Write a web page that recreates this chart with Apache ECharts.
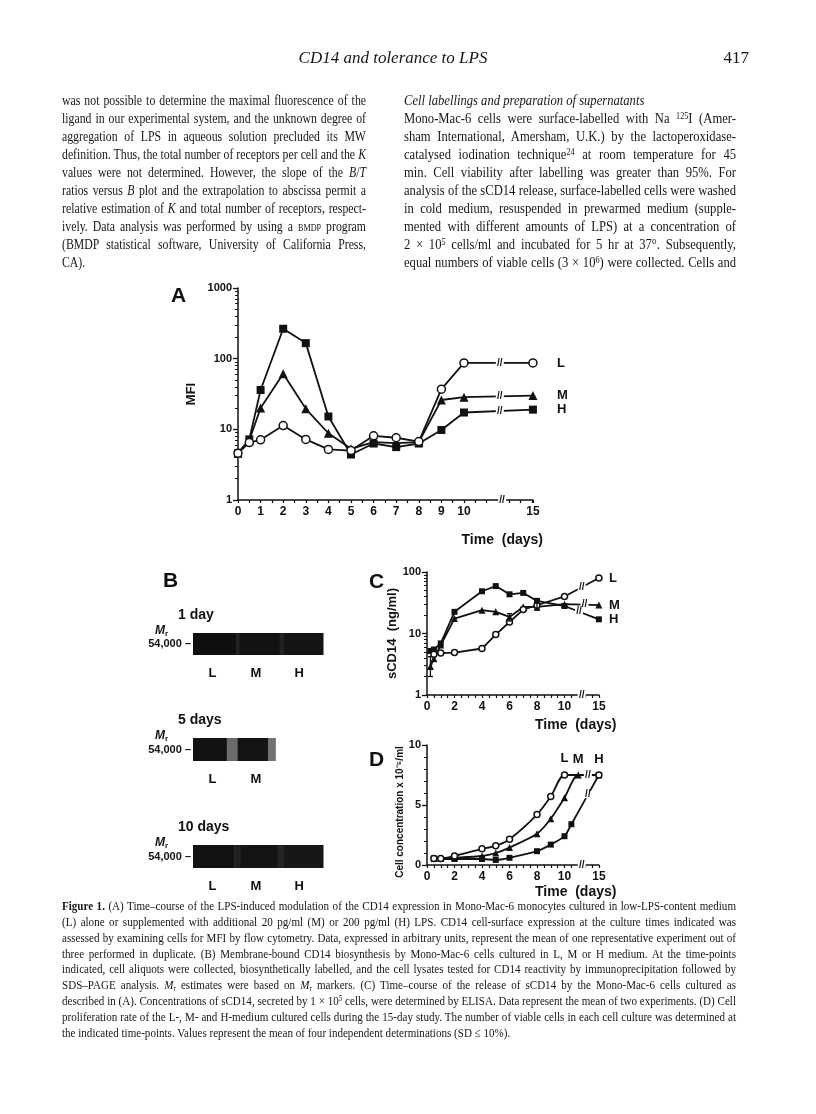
<!DOCTYPE html>
<html>
<head>
<meta charset="utf-8">
<script src="https://cdn.jsdelivr.net/npm/echarts@6/dist/echarts.min.js"></script>
<style>
  html, body { margin: 0; padding: 0; background: #fff; }
  #page { position: relative; width: 816px; height: 1114px; overflow: hidden; }
  #chart { position: absolute; left: 0; top: 0; width: 816px; height: 1114px; }
  .t { position: absolute; font-family: 'Liberation Serif', 'Times New Roman', serif; color: #161616; white-space: nowrap; }
  .t sup { font-size: 0.65em; vertical-align: 0.45em; line-height: 0; }
  .t sub { font-size: 0.65em; vertical-align: -0.2em; line-height: 0; }
  .sc { font-variant: small-caps; }
</style>
</head>
<body>
<div id="page">
  <div id="chart"></div>
</div>
<script>
// page text
const headerTitle = 'CD14 and tolerance to LPS'
const pageNo = '417'
const leftLines = [
  'was not possible to determine the maximal fluorescence of the',
  'ligand in our experimental system, and the unknown degree of',
  'aggregation of LPS in aqueous solution precluded its MW',
  'definition. Thus, the total number of receptors per cell and the <i>K</i>',
  'values were not determined. However, the slope of the <i>B</i>/<i>T</i>',
  'ratios versus <i>B</i> plot and the extrapolation to abscissa permit a',
  'relative estimation of <i>K</i> and total number of receptors, respect-',
  'ively. Data analysis was performed by using a <span class="sc">bmdp</span> program',
  '(BMDP statistical software, University of California Press,',
  'CA).'
]
const rightLines = [
  '<i>Cell labellings and preparation of supernatants</i>',
  'Mono-Mac-6 cells were surface-labelled with Na <sup>125</sup>I (Amer-',
  'sham International, Amersham, U.K.) by the lactoperoxidase-',
  'catalysed iodination technique<sup>24</sup> at room temperature for 45',
  'min. Cell viability after labelling was greater than 95%. For',
  'analysis of the sCD14 release, surface-labelled cells were washed',
  'in cold medium, resuspended in prewarmed medium (supple-',
  'mented with different amounts of LPS) at a concentration of',
  '2 × 10<sup>5</sup> cells/ml and incubated for 5 hr at 37°. Subsequently,',
  'equal numbers of viable cells (3 × 10<sup>6</sup>) were collected. Cells and'
]
const captionLines = [
  '<b>Figure 1.</b> (A) Time–course of the LPS-induced modulation of the CD14 expression in Mono-Mac-6 monocytes cultured in low-LPS-content medium',
  '(L) alone or supplemented with additional 20 pg/ml (M) or 200 pg/ml (H) LPS. CD14 cell-surface expression at the culture times indicated was',
  'assessed by examining cells for MFI by flow cytometry. Data, expressed in arbitrary units, represent the mean of one representative experiment out of',
  'three performed in duplicate. (B) Membrane-bound CD14 biosynthesis by Mono-Mac-6 cells cultured in L, M or H medium. At the time-points',
  'indicated, cell aliquots were collected, biosynthetically labelled, and the cell lysates tested for CD14 reactivity by immunoprecipitation followed by',
  'SDS–PAGE analysis. <i>M</i><sub>r</sub> estimates were based on <i>M</i><sub>r</sub> markers. (C) Time–course of the release of sCD14 by the Mono-Mac-6 cells cultured as',
  'described in (A). Concentrations of sCD14, secreted by 1 × 10<sup>5</sup> cells, were determined by ELISA. Data represent the mean of two experiments. (D) Cell',
  'proliferation rate of the L-, M- and H-medium cultured cells during the 15-day study. The number of viable cells in each cell culture was determined at',
  'the indicated time-points. Values represent the mean of four independent determinations (SD ≤ 10%).'
]

// A: MFI
const daysA = [0, 0.5, 1, 2, 3, 4, 5, 6, 7, 8, 9, 10, 15]
const mfiL = [4.6, 6.5, 7.1, 11.3, 7.2, 5.2, 5.0, 8.1, 7.6, 6.7, 37, 87, 87]
const mfiM = [4.6, 7.0, 20, 61, 19.5, 8.8, 5.3, 6.6, 6.4, 6.6, 26, 28.5, 30]
const mfiH = [4.6, 7.2, 36, 265, 166, 15.2, 4.4, 6.3, 5.6, 6.3, 9.8, 17.3, 19]
const xTicksA = [0, 1, 2, 3, 4, 5, 6, 7, 8, 9, 10, 15]

// C: sCD14 (ng/ml)
const daysCL = [0.5, 1, 2, 4, 5, 6, 7, 8, 10, 15]
const daysCMH = [0.25, 0.5, 1, 2, 4, 5, 6, 7, 8, 10, 15]
const scdL = [4.6, 4.8, 4.9, 5.7, 9.6, 15.4, 24.5, 28.8, 40, 80]
const scdM = [2.9, 3.9, 6.5, 17.5, 23.9, 22.5, 18.6, 27, 27, 30, 29]
const scdH = [5.2, 5.5, 6.9, 22.5, 48.6, 59, 43.4, 45.7, 33.9, 28, 17]
const errDays = [0.25, 6, 8]
const errLow = [2.0, 16, 24]
const errHigh = [4.2, 21, 31]
const xTicksCD = [0, 2, 4, 6, 8, 10, 15]

// D: cells x 10^-5/ml
const daysDL = [0.5, 1, 2, 4, 5, 6, 8, 9, 10, 15]
const daysDM = [0.5, 1, 2, 4, 5, 6, 8, 9, 10, 12, 15]
const daysDH = [0.5, 1, 2, 4, 5, 6, 8, 9, 10, 11, 15]
const cellL = [0.55, 0.55, 0.75, 1.35, 1.6, 2.15, 4.2, 5.7, 7.5, 7.5]
const cellM = [0.55, 0.55, 0.6, 0.75, 1.0, 1.45, 2.6, 3.85, 5.6, 7.5, 7.5]
const cellH = [0.55, 0.5, 0.5, 0.5, 0.42, 0.6, 1.15, 1.7, 2.4, 3.4, 7.5]

// B: gel strips [from lane, to lane, grey level]
const blotTitles = ['1 day', '5 days', '10 days']
const blotLanes = [['L', 'M', 'H'], ['L', 'M'], ['L', 'M', 'H']]
const blot1 = [[0, 1, 0.06], [1, 1.08, 0.12], [1.08, 2, 0.07], [2, 2.1, 0.13], [2.1, 3, 0.08]]
const blot2 = [[0, 0.78, 0.07], [0.78, 1.03, 0.42], [1.03, 1.73, 0.08], [1.73, 1.9, 0.45]]
const blot3 = [[0, 0.95, 0.07], [0.95, 1.1, 0.13], [1.1, 1.95, 0.08], [1.95, 2.1, 0.14], [2.1, 3, 0.09]]
const mrLabel = '54,000 –'

const page = document.getElementById('page')

// one shared horizontal squeeze per column so the face looks even
function placeLines(lines, x, y0, step, w, size, plain) {
  const spans = lines.map((html, i) => {
    const d = document.createElement('div')
    d.className = 't'
    d.style.left = x + 'px'
    d.style.top = (y0 + i * step - step / 2) + 'px'
    d.style.fontSize = size + 'px'
    d.style.lineHeight = step + 'px'
    const s = document.createElement('span')
    s.innerHTML = html
    d.appendChild(s)
    page.appendChild(d)
    return s
  })
  const nats = spans.map(s => s.getBoundingClientRect().width)
  let sc = 1
  nats.forEach((n, i) => { if (plain.indexOf(i) < 0) sc = Math.min(sc, w / (n + 1)) })
  spans.forEach((s, i) => {
    const just = plain.indexOf(i) < 0
    s.style.display = 'block'
    s.style.width = (just ? w / sc : nats[i] + 2) + 'px'
    s.style.whiteSpace = 'normal'
    s.style.textAlign = 'justify'
    s.style.textAlignLast = just ? 'justify' : 'left'
    s.style.transformOrigin = '0 0'
    s.style.transform = 'scaleX(' + sc + ')'
  })
}

function single(html, x, y, size, style, anchor) {
  const d = document.createElement('div')
  d.className = 't'
  d.innerHTML = html
  d.style.fontSize = size + 'px'
  d.style.lineHeight = size + 'px'
  d.style.top = (y - size / 2) + 'px'
  if (style) d.style.fontStyle = style
  page.appendChild(d)
  const w = d.getBoundingClientRect().width
  d.style.left = (anchor === 'middle' ? x - w / 2 : anchor === 'end' ? x - w : x) + 'px'
}

single(headerTitle, 393, 57, 17, 'italic', 'middle')
single(pageNo, 749, 57, 17, null, 'end')
placeLines(leftLines, 62, 100, 18, 304, 14.5, [9])
placeLines(rightLines, 404, 100, 18, 332, 14.5, [0])
placeLines(captionLines, 62, 907, 15.8, 674, 12.5, [8])

// broken time axis: 10 -> 15 squeezed
const brkA = t => t <= 10 ? t : 10 + (t - 10) * 0.61
const brkC = t => t <= 10 ? t : 10 + (t - 10) * 0.5
const ENDA = brkA(15)
const ENDC = brkC(15)
const gapA = 10 + (ENDA - 10) * 0.52
const gapC = 10 + (ENDC - 10) * 0.5

const font = "'Liberation Sans', Arial, sans-serif"
const black = '#111'

function valueAt(days, vals, brk, pos, log) {
  const a = days.length - 2, b = days.length - 1
  const pa = brk(days[a]), pb = brk(days[b])
  const f = (pos - pa) / (pb - pa)
  return log ? vals[a] * Math.pow(vals[b] / vals[a], f) : vals[a] + (vals[b] - vals[a]) * f
}

const symbols = { L: 'circle', M: 'triangle', H: 'rect' }

function curve(name, days, vals, brk, xi, yi, size, extra) {
  const open = name === 'L'
  return Object.assign({
    type: 'line',
    name: name,
    xAxisIndex: xi,
    yAxisIndex: yi,
    data: days.map((d, i) => [brk(d), vals[i]]),
    symbol: symbols[name],
    symbolSize: name === 'M' ? size + 1 : size,
    lineStyle: { color: black, width: 1.8 },
    itemStyle: { color: open ? '#fff' : black, borderColor: black, borderWidth: open ? 1.5 : 0 },
    z: open ? 4 : 3,
    animation: false
  }, extra || {})
}

function breakMark(points) {
  return {
    symbol: 'rect',
    symbolSize: [8, 7],
    silent: true,
    itemStyle: { color: '#fff' },
    label: { show: true, position: 'inside', formatter: '//', color: black, fontWeight: 'bold', fontSize: 10, fontFamily: font },
    data: points.map(p => ({ coord: p }))
  }
}

function endLabel(name, dist) {
  return { show: true, formatter: name, color: black, fontWeight: 'bold', fontSize: 13, fontFamily: font, distance: dist }
}

const tickLabel = { color: black, fontWeight: 'bold', fontSize: 12, fontFamily: font }
const axisLine = { show: true, lineStyle: { color: black, width: 1.5 } }

function timeAxis(grid, ticks, brk, end) {
  return {
    type: 'value', gridIndex: grid, min: 0, max: end, interval: 0.5,
    axisLine: axisLine,
    axisTick: { show: true, length: 3, lineStyle: { color: black, width: 1.2 } },
    splitLine: { show: false },
    axisLabel: Object.assign({ customValues: ticks.map(brk), margin: 6, formatter: v => v > 10.01 ? '15' : String(Math.round(v)) }, tickLabel)
  }
}

function logAxis(grid, max, name, gap) {
  return {
    type: 'log', logBase: 10, gridIndex: grid, min: 1, max: max, position: 'left',
    name: name, nameLocation: 'middle', nameGap: gap,
    nameTextStyle: { color: black, fontWeight: 'bold', fontSize: 13, fontFamily: font },
    axisLine: axisLine,
    axisTick: { show: true, length: 5, lineStyle: { color: black, width: 1.3 } },
    splitLine: { show: false },
    axisLabel: Object.assign({ margin: 6, formatter: v => String(Math.round(v)) }, tickLabel, { fontSize: 11 })
  }
}

function minorLog(grid, max) {
  const vals = []
  for (let d = 1; d < max; d *= 10) for (let m = 2; m <= 9; m++) vals.push(d * m)
  return {
    type: 'log', logBase: 10, gridIndex: grid, min: 1, max: max, position: 'left', offset: 0,
    axisLine: { show: false },
    axisLabel: { show: false },
    splitLine: { show: false },
    axisTick: { show: true, length: 3, customValues: vals, lineStyle: { color: black, width: 1 } }
  }
}

const blots = [blot1, blot2, blot3]
const blotGrids = [
  { left: 193, top: 633, width: 130, height: 22 },
  { left: 193, top: 738, width: 130, height: 23 },
  { left: 193, top: 845, width: 130, height: 23 }
]

const gridA = { left: 238, top: 288, width: ENDA * 22.6, height: 212 }
const gridC = { left: 427, top: 572, width: ENDC * 13.75, height: 123 }
const gridD = { left: 427, top: 745, width: ENDC * 13.75, height: 120 }

const xAxes = [timeAxis(0, xTicksA, brkA, ENDA), timeAxis(1, xTicksCD, brkC, ENDC), timeAxis(2, xTicksCD, brkC, ENDC)]
const yAxes = [
  logAxis(0, 1000, 'MFI', 40), minorLog(0, 1000),
  logAxis(1, 100, 'sCD14  (ng/ml)', 25), minorLog(1, 100),
  {
    type: 'value', gridIndex: 2, min: 0, max: 10, interval: 5,
    name: 'Cell concentration x 10⁻⁵/ml', nameLocation: 'middle', nameGap: 21,
    nameTextStyle: { color: black, fontWeight: 'bold', fontSize: 10, fontFamily: font, padding: [0, 0, 0, -14] },
    axisLine: axisLine,
    axisTick: { show: true, length: 5, lineStyle: { color: black, width: 1.3 } },
    minorTick: { show: true, splitNumber: 5, length: 3, lineStyle: { color: black, width: 1 } },
    splitLine: { show: false },
    axisLabel: Object.assign({ margin: 6 }, tickLabel, { fontSize: 11 })
  }
]

function topLabel(name) {
  return { show: true, formatter: name, position: 'top', distance: 6, color: black, fontWeight: 'bold', fontSize: 13, fontFamily: font }
}

const series = [
  curve('L', daysA, mfiL, brkA, 0, 0, 8, { endLabel: endLabel('L', 24),
    markPoint: breakMark([[gapA, valueAt(daysA, mfiL, brkA, gapA, true)], [gapA + 0.1, 1]]) }),
  curve('M', daysA, mfiM, brkA, 0, 0, 8, { endLabel: endLabel('M', 24),
    markPoint: breakMark([[gapA, valueAt(daysA, mfiM, brkA, gapA, true)]]) }),
  curve('H', daysA, mfiH, brkA, 0, 0, 8, { endLabel: endLabel('H', 24),
    markPoint: breakMark([[gapA, valueAt(daysA, mfiH, brkA, gapA, true)]]) }),

  curve('L', daysCL, scdL, brkC, 1, 2, 6, { endLabel: endLabel('L', 10),
    markPoint: breakMark([[gapC, valueAt(daysCL, scdL, brkC, gapC, true)], [gapC, 1]]) }),
  curve('M', daysCMH, scdM, brkC, 1, 2, 6, { endLabel: endLabel('M', 10),
    markPoint: breakMark([[gapC + 0.2, valueAt(daysCMH, scdM, brkC, gapC + 0.2, true)]]) }),
  curve('H', daysCMH, scdH, brkC, 1, 2, 6, { endLabel: endLabel('H', 10),
    markPoint: breakMark([[gapC - 0.2, valueAt(daysCMH, scdH, brkC, gapC - 0.2, true)]]) }),
  {
    type: 'custom', xAxisIndex: 1, yAxisIndex: 2, animation: false, z: 5,
    data: errDays.map((d, i) => [brkC(d), errLow[i], errHigh[i]]),
    renderItem: (params, api) => {
      const lo = api.coord([api.value(0), api.value(1)])
      const hi = api.coord([api.value(0), api.value(2)])
      const st = { stroke: black, lineWidth: 1.3 }
      return { type: 'group', children: [
        { type: 'line', shape: { x1: lo[0], y1: lo[1], x2: hi[0], y2: hi[1] }, style: st },
        { type: 'line', shape: { x1: lo[0] - 2.5, y1: lo[1], x2: lo[0] + 2.5, y2: lo[1] }, style: st },
        { type: 'line', shape: { x1: hi[0] - 2.5, y1: hi[1], x2: hi[0] + 2.5, y2: hi[1] }, style: st }
      ] }
    }
  },

  curve('L', daysDL, cellL, brkC, 2, 4, 6, { smooth: 0.25,
    data: daysDL.map((d, i) => i === 8 ? { value: [brkC(d), cellL[i]], label: topLabel('L') } : [brkC(d), cellL[i]]),
    markPoint: breakMark([[gapC + 0.45, 7.5], [gapC, 0]]) }),
  curve('M', daysDM, cellM, brkC, 2, 4, 6, { smooth: 0.25,
    data: daysDM.map((d, i) => i === 9 ? { value: [brkC(d), cellM[i]], label: topLabel('M') } : [brkC(d), cellM[i]]) }),
  curve('H', daysDH, cellH, brkC, 2, 4, 6, { smooth: 0.25,
    data: daysDH.map((d, i) => i === daysDH.length - 1 ? { value: [brkC(d), cellH[i]], label: topLabel('H') } : [brkC(d), cellH[i]]),
    markPoint: breakMark([[gapC + 0.45, valueAt(daysDH, cellH, brkC, gapC + 0.45, false)]]) })
]

const big = { fontSize: 21, fontWeight: 'bold', color: black, fontFamily: font }
const timeStyle = { fontSize: 14, fontWeight: 'bold', color: black, fontFamily: font }
const titles = [
  { text: 'A', left: 166, top: 281, textStyle: big },
  { text: 'B', left: 158, top: 566, textStyle: big },
  { text: 'C', left: 364, top: 567, textStyle: big },
  { text: 'D', left: 364, top: 745, textStyle: big },
  { text: 'Time  (days)', right: 816 - 548, top: 528, textStyle: timeStyle },
  { text: 'Time  (days)', left: 530, top: 713, textStyle: timeStyle },
  { text: 'Time  (days)', left: 530, top: 880, textStyle: timeStyle }
]

blots.forEach((strips, b) => {
  const g = blotGrids[b]
  xAxes.push({
    type: 'value', gridIndex: 3 + b, min: 0, max: 3,
    axisLine: { show: false }, axisTick: { show: false }, splitLine: { show: false },
    axisLabel: Object.assign({ customValues: blotLanes[b].map((l, i) => i + 0.45), margin: 12,
      formatter: v => blotLanes[b][Math.floor(v)] }, tickLabel, { fontSize: 13 })
  })
  yAxes.push({
    type: 'value', gridIndex: 3 + b, min: 0, max: 1,
    axisLine: { show: false }, axisTick: { show: false }, splitLine: { show: false },
    axisLabel: Object.assign({ customValues: [0.5], margin: 2, formatter: () => mrLabel }, tickLabel, { fontSize: 11 })
  })
  series.push({
    type: 'custom', xAxisIndex: 3 + b, yAxisIndex: 5 + b, animation: false,
    data: strips,
    renderItem: (params, api) => {
      const p0 = api.coord([api.value(0), 1])
      const p1 = api.coord([api.value(1), 0])
      const g = Math.round(255 * api.value(2))
      return { type: 'rect', shape: { x: p0[0], y: p0[1], width: p1[0] - p0[0] + 0.5, height: p1[1] - p0[1] },
        style: { fill: 'rgb(' + g + ',' + g + ',' + g + ')' } }
    }
  })
  titles.push({ text: blotTitles[b], left: 173, top: g.top - 30, textStyle: { fontSize: 14, fontWeight: 'bold', color: black, fontFamily: font } })
  titles.push({ text: '{m|M}{r|r}', left: 150, top: g.top - 14, textStyle: { rich: {
    m: { fontSize: 12, fontStyle: 'italic', fontWeight: 'bold', color: black, fontFamily: font },
    r: { fontSize: 8, fontWeight: 'bold', color: black, fontFamily: font, padding: [6, 0, 0, 0] }
  } } })
})

const chart = echarts.init(document.getElementById('chart'), null, { renderer: 'canvas' })
chart.setOption({
  animation: false,
  backgroundColor: 'transparent',
  title: titles,
  grid: [gridA, gridC, gridD].concat(blotGrids),
  xAxis: xAxes,
  yAxis: yAxes,
  series: series
})
</script>
</body>
</html>
